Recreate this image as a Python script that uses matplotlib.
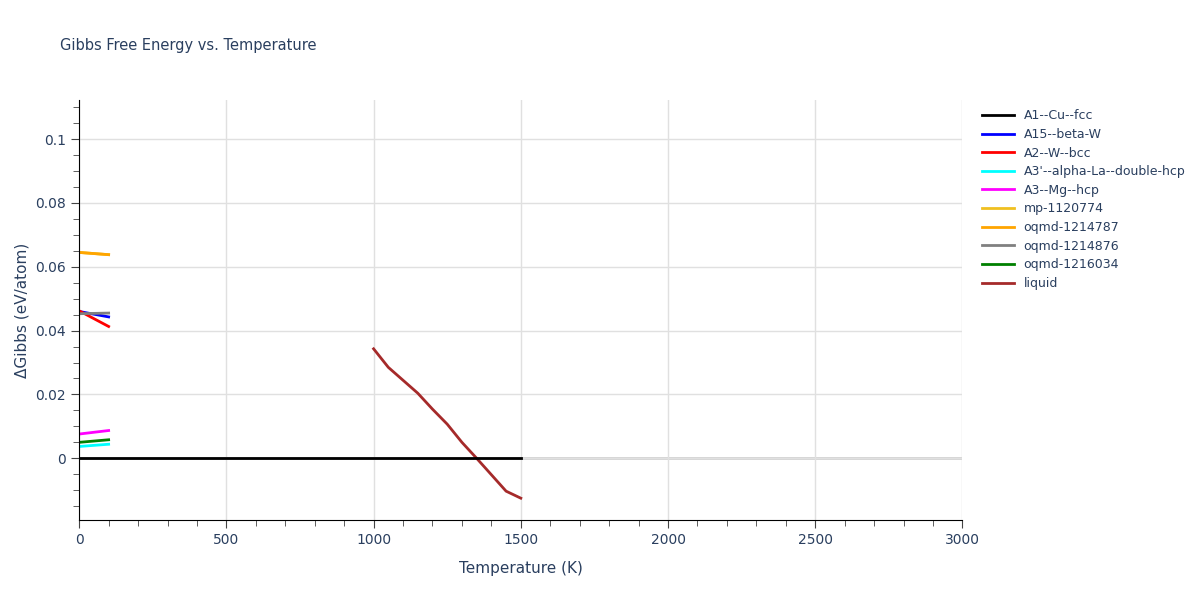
import matplotlib.pyplot as plt
from matplotlib.ticker import MultipleLocator

T_short = [0, 100]
names = ["A1--Cu--fcc", "A15--beta-W", "A2--W--bcc", "A3'--alpha-La--double-hcp",
         "A3--Mg--hcp", "mp-1120774", "oqmd-1214787", "oqmd-1214876", "oqmd-1216034", "liquid"]
colors = ["black", "blue", "red", "cyan", "magenta", "#f0c020", "orange", "grey", "green", "brown"]

T_fcc = [0, 1500]
G_fcc = [0, 0]
G_short = {
    "A15--beta-W": [0.0460, 0.0443],
    "A2--W--bcc": [0.0462, 0.0413],
    "A3'--alpha-La--double-hcp": [0.0037, 0.0044],
    "A3--Mg--hcp": [0.0076, 0.0087],
    "mp-1120774": [0.0645, 0.0638],
    "oqmd-1214787": [0.0645, 0.0638],
    "oqmd-1214876": [0.0453, 0.0455],
    "oqmd-1216034": [0.0050, 0.0058],
}
T_liq = [1000, 1050, 1150, 1200, 1250, 1300, 1350, 1450, 1500]
G_liq = [0.0343, 0.0285, 0.0204, 0.0154, 0.0107, 0.005, 0.0, -0.0103, -0.0125]

fig = plt.figure(figsize=(12, 6), dpi=100)
ax = fig.add_axes([0.066, 0.133, 0.736, 0.7])
txt = "#2a3f5f"
ax.axhline(0, color="#d0d0d0", lw=2, zorder=0)
for n, c in zip(names, colors):
    if n == "A1--Cu--fcc":
        ax.plot(T_fcc, G_fcc, color=c, lw=2, label=n, zorder=5)
    elif n == "liquid":
        ax.plot(T_liq, G_liq, color=c, lw=2, label=n)
    else:
        ax.plot(T_short, G_short[n], color=c, lw=2, label=n)

ax.set_xlim(0, 3000)
ax.set_ylim(-0.0194, 0.1122)
ax.xaxis.set_major_locator(MultipleLocator(500))
ax.xaxis.set_minor_locator(MultipleLocator(100))
ax.yaxis.set_minor_locator(MultipleLocator(0.005))
ax.set_yticks([0, 0.02, 0.04, 0.06, 0.08, 0.1])
ax.set_yticklabels(["0", "0.02", "0.04", "0.06", "0.08", "0.1"])
ax.grid(True, which="major", color="#e0e0e0", lw=1)
ax.set_axisbelow(True)
for s in ["top", "right"]:
    ax.spines[s].set_visible(False)
ax.tick_params(which="both", direction="out", colors="#444", labelcolor=txt, labelsize=10)
ax.tick_params(which="major", length=6)
ax.tick_params(which="minor", length=4)
ax.set_xlabel("Temperature (K)", color=txt, fontsize=11, labelpad=10)
ax.set_ylabel("ΔGibbs (eV/atom)", color=txt, fontsize=11)
fig.text(0.05, 0.917, "Gibbs Free Energy vs. Temperature", color=txt, fontsize=10.5)
ax.legend(loc="upper left", bbox_to_anchor=(1.01, 1.005), frameon=False,
          fontsize=9, labelcolor=txt, handlelength=2.5, labelspacing=0.45)
fig.savefig("out.png")
